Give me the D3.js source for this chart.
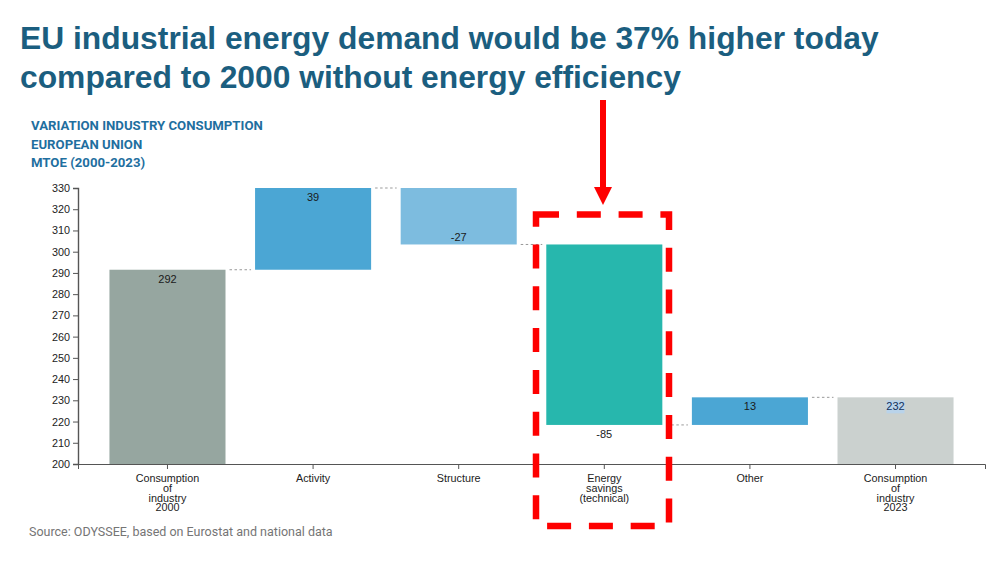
<!DOCTYPE html>
<html>
<head>
<meta charset="utf-8">
<title>EU industrial energy demand</title>
<script src="https://cdnjs.cloudflare.com/ajax/libs/d3/7.8.5/d3.min.js"></script>
<style>
  html, body { margin: 0; padding: 0; background: #fff; }
  svg { display: block; }
  .axis text { font-family: "Liberation Sans", Arial, sans-serif; font-size: 10.8px; fill: #222; }
  .axis path, .axis line { stroke: #555; }
</style>
</head>
<body>
<script>
// waterfall steps
var categories = ["Consumption of industry 2000", "Activity", "Structure", "Energy savings (technical)", "Other", "Consumption of industry 2023"];
var categoryLines = [["Consumption", "of", "industry", "2000"], ["Activity"], ["Structure"], ["Energy", "savings", "(technical)"], ["Other"], ["Consumption", "of", "industry", "2023"]];
var barStarts = [200, 291.5, 330, 303.4, 218.4, 200];
var barEnds = [291.5, 330, 303.4, 218.4, 231.4, 231.4];
var valueLabels = ["292", "39", "-27", "-85", "13", "232"];
var barColors = ["#96a6a0", "#4ba6d4", "#7dbcdf", "#27b7ad", "#4ba6d4", "#cbd1cf"];
var yTicks = d3.range(200, 331, 10);
var titleLines = ["EU industrial energy demand would be 37% higher today", "compared to 2000 without energy efficiency"];
var subtitleLines = ["VARIATION INDUSTRY CONSUMPTION", "EUROPEAN UNION", "MTOE (2000-2023)"];

var svg = d3.select("body").append("svg").attr("width", 1000).attr("height", 561);

var x = d3.scaleBand().domain(categories).range([78, 985]).paddingInner(0.203).paddingOuter(0.216);
var y = d3.scaleLinear().domain([200, 330]).range([464, 188]);

// titles
svg.selectAll("text.title").data(titleLines).enter().append("text")
    .attr("class", "title")
    .attr("x", 20)
    .attr("y", function(d, i) { return 49 + i * 39; })
    .attr("font-family", "Liberation Sans")
    .attr("font-weight", "bold")
    .attr("font-size", 31.8)
    .attr("fill", "#1b5e7f")
    .text(function(d) { return d; });

svg.selectAll("text.subtitle").data(subtitleLines).enter().append("text")
    .attr("class", "subtitle")
    .attr("x", 31)
    .attr("y", function(d, i) { return 130 + i * 18.5; })
    .attr("font-family", "Roboto")
    .attr("font-weight", "bold")
    .attr("font-size", 13.2)
    .attr("fill", "#1f6f9f")
    .text(function(d) { return d; });

// bars
svg.selectAll("rect.bar").data(categories).enter().append("rect")
    .attr("class", "bar")
    .attr("x", function(d) { return x(d); })
    .attr("width", x.bandwidth())
    .attr("y", function(d, i) { return y(Math.max(barStarts[i], barEnds[i])); })
    .attr("height", function(d, i) { return Math.abs(y(barStarts[i]) - y(barEnds[i])); })
    .attr("fill", function(d, i) { return barColors[i]; });

// dotted connectors between the bars
svg.selectAll("line.link").data(categories.slice(0, -1)).enter().append("line")
    .attr("class", "link")
    .attr("x1", function(d) { return x(d) + x.bandwidth() + 4; })
    .attr("x2", function(d, i) { return x(categories[i + 1]) - 4; })
    .attr("y1", function(d, i) { return y(barEnds[i]); })
    .attr("y2", function(d, i) { return y(barEnds[i]); })
    .attr("stroke", "#999")
    .attr("stroke-dasharray", "2.5 2.5");

function labelY(d, i) {
    if (i == 3) return y(barEnds[i]) + 13;
    if (i == 2) return y(barEnds[i]) - 3;
    return y(Math.max(barStarts[i], barEnds[i])) + 13;
}

// the 232 label sits on a pale blue selection box in the original
var lastCat = categories[5];
svg.append("rect")
    .attr("x", x(lastCat) + x.bandwidth() / 2 - 9)
    .attr("y", labelY(lastCat, 5) - 10)
    .attr("width", 18)
    .attr("height", 13)
    .attr("fill", "#b9d3ea");

// value labels, under the bar for the negative steps
svg.selectAll("text.value").data(categories).enter().append("text")
    .attr("class", "value")
    .attr("x", function(d) { return x(d) + x.bandwidth() / 2; })
    .attr("y", labelY)
    .attr("text-anchor", "middle")
    .attr("font-family", "Liberation Sans")
    .attr("font-size", 11)
    .attr("fill", function(d, i) { return i == 5 ? "#12305a" : "#1a1a1a"; })
    .text(function(d, i) { return valueLabels[i]; });

// axes
var yAxis = svg.append("g").attr("class", "axis")
    .attr("transform", "translate(78,0)")
    .call(d3.axisLeft(y).tickValues(yTicks).tickSize(5).tickPadding(3));
yAxis.select(".domain").attr("stroke", "#777").attr("stroke-width", 1.4);

var xAxis = svg.append("g").attr("class", "axis")
    .attr("transform", "translate(0,464)")
    .call(d3.axisBottom(x).tickSize(5).tickSizeOuter(5));
xAxis.select(".domain").attr("stroke", "#222");

xAxis.selectAll(".tick text").each(function(d, i) {
    var t = d3.select(this).text(null).attr("y", 0).attr("dy", null);
    categoryLines[i].forEach(function(line, k) {
        t.append("tspan").attr("x", 0).attr("y", 18 + k * 9.8).text(line);
    });
});

// source
svg.append("text")
    .attr("x", 29)
    .attr("y", 536)
    .attr("font-family", "Roboto")
    .attr("font-size", 12.5)
    .attr("fill", "#757575")
    .text("Source: ODYSSEE, based on Eurostat and national data");

// red annotation
svg.append("rect")
    .attr("x", 536)
    .attr("y", 214.5)
    .attr("width", 133)
    .attr("height", 311.5)
    .attr("fill", "none")
    .attr("stroke", "#fe0000")
    .attr("stroke-width", 6.5)
    .attr("stroke-dasharray", "24 17.8")
    .attr("stroke-dashoffset", 1);

svg.append("line")
    .attr("x1", 603).attr("x2", 603)
    .attr("y1", 100).attr("y2", 190)
    .attr("stroke", "#fe0000")
    .attr("stroke-width", 6);

svg.append("path")
    .attr("d", "M594,187L612,187L603,205Z")
    .attr("fill", "#fe0000");
</script>
</body>
</html>
